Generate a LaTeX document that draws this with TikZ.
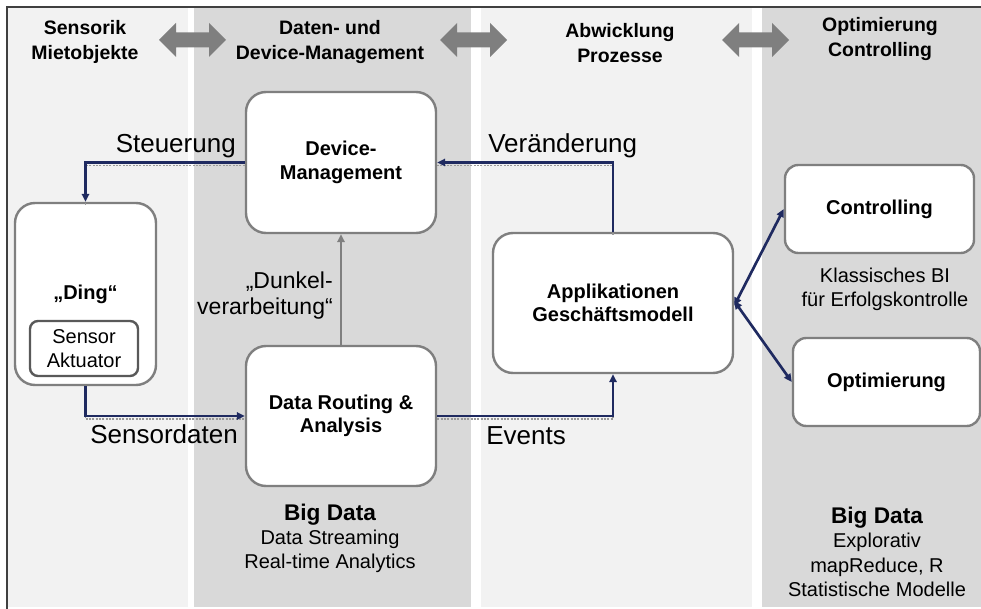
\documentclass[tikz,border=0pt]{standalone}
\usepackage{fontspec}
\setmainfont{Liberation Sans}
\usetikzlibrary{arrows.meta}

\definecolor{lanelight}{HTML}{F2F2F2}
\definecolor{lanedark}{HTML}{D9D9D9}
\definecolor{boxgray}{HTML}{7F7F7F}
\definecolor{innergray}{HTML}{595959}
\definecolor{navyline}{HTML}{1F2A60}
\definecolor{framegray}{HTML}{404040}

\begin{document}
\begin{tikzpicture}[x=0.75pt,y=0.75pt,yscale=-1,xscale=1,
  roundbox/.style={draw=boxgray, line width=1.8pt, fill=white, rounded corners=15pt, align=center, inner sep=0pt, font=\fontsize{15}{17.5}\selectfont\bfseries},
  smallbox/.style={roundbox, rounded corners=10pt},
  flowline/.style={draw=navyline, line width=2pt, -{Triangle[length=6pt,width=5.5pt]},
    preaction={draw=boxgray!80, line width=1pt, dash pattern=on 1.5pt off 1pt, -, transform canvas={yshift=-2.2pt}}},
  bothline/.style={draw=navyline, line width=2pt, {Triangle[length=6pt,width=5.5pt]}-{Triangle[length=6pt,width=5.5pt]}},
  lanehead/.style={align=center, font=\fontsize{14.6}{18.75}\selectfont\bfseries},
  flowlabel/.style={inner sep=0pt, font=\fontsize{19.5}{23}\selectfont},
  note/.style={align=center, inner sep=0pt, font=\fontsize{15}{18}\selectfont}]
\useasboundingbox (0,0) rectangle (981,609);

%Lanes
\fill [lanelight] (8,8) rectangle (188,607);
\fill [lanedark] (194,8) rectangle (471,607);
\fill [lanelight] (481,8) rectangle (752,607);
\fill [lanedark] (762,8) rectangle (981,607);
%Frame
\draw [framegray, line width=0.8pt] (7,609) -- (7,7) -- (981,7);

%Header arrows
\foreach \ax in {159,440,722}
  \fill [boxgray] (\ax,40) -- ({\ax+17},23) -- ({\ax+17},32.5) -- ({\ax+50},32.5) -- ({\ax+50},23) -- ({\ax+67},40)
    -- ({\ax+50},57) -- ({\ax+50},47.5) -- ({\ax+17},47.5) -- ({\ax+17},57) -- cycle;

% Text Node
\node [lanehead] (hsens) at (85,42) {Sensorik\\Mietobjekte};
% Text Node
\node [lanehead] (hdata) at (330,42) {Daten- und\\Device-Management};
% Text Node
\node [lanehead] (habw) at (620,43) {Abwicklung\\Prozesse};
% Text Node
\node [lanehead] (hopt) at (880,39) {Optimierung\\Controlling};

%Rounded Rect
\node [roundbox, minimum width=142.5pt, minimum height=105.75pt] (devmgmt) at (341,162.5) {Device-\\Management};
%Rounded Rect
\node [roundbox, minimum width=105.75pt, minimum height=136.5pt] (ding) at (85.5,294) {„Ding“};
%Rounded Rect
\node [draw=innergray, line width=1.8pt, fill=white, rounded corners=6pt, align=center, inner sep=0pt,
  minimum width=81pt, minimum height=41.25pt, font=\fontsize{15}{18}\selectfont] (sensor) at (84,348.5) {Sensor\\Aktuator};
%Rounded Rect
\node [roundbox, minimum width=142.5pt, minimum height=105pt] (routing) at (341,416) {Data Routing \&\\Analysis};
%Rounded Rect
\node [roundbox, minimum width=180pt, minimum height=105pt] (appl) at (613,303) {Applikationen\\Geschäftsmodell};
%Rounded Rect
\node [smallbox, minimum width=141.75pt, minimum height=66pt] (ctrl) at (879.5,209) {Controlling};
%Rounded Rect
\node [smallbox, minimum width=140.25pt, minimum height=66pt] (optim) at (886.5,382) {Optimierung};

%Connectors
\draw [flowline] (devmgmt.west) -| (ding.north);
\draw [flowline] (appl.north) |- (devmgmt.east);
\draw [flowline] (ding.south) |- (routing.west);
\draw [flowline] (routing.east) -| (appl.south);
\draw [boxgray, line width=2pt, -{Triangle[length=6pt,width=5.5pt]}] (routing.north) -- (devmgmt.south);
\draw [bothline] ([yshift=2pt]appl.east) -- (ctrl.west);
\draw [bothline] ([yshift=-1.5pt]appl.east) -- (optim.west);

% Text Node
\node [flowlabel, anchor=base east] (lsteuer) at (236,153) {Steuerung};
% Text Node
\node [flowlabel, anchor=base west] (lveraend) at (488,153) {Veränderung};
% Text Node
\node [flowlabel, anchor=base east] (lsensdat) at (238,443) {Sensordaten};
% Text Node
\node [flowlabel, anchor=base west] (levents) at (486,444) {Events};
% Text Node
\node [align=right, anchor=east, inner sep=0pt, font=\fontsize{17.25}{19.5}\selectfont] (ldunkel) at (333,296) {„Dunkel-\\verarbeitung“};

% Text Node
\node [note] (bdleft) at (330,538) {{\fontsize{17}{20}\selectfont\bfseries Big Data}\\Data Streaming\\Real-time Analytics};
% Text Node
\node [note, font=\fontsize{15}{18.4}\selectfont] (bdright) at (877,552) {{\fontsize{17}{20}\selectfont\bfseries Big Data}\\Explorativ\\mapReduce, R\\Statistische Modelle};
% Text Node
\node [note] (klassbi) at (885,289) {Klassisches BI\\für Erfolgskontrolle};

\end{tikzpicture}
\end{document}
